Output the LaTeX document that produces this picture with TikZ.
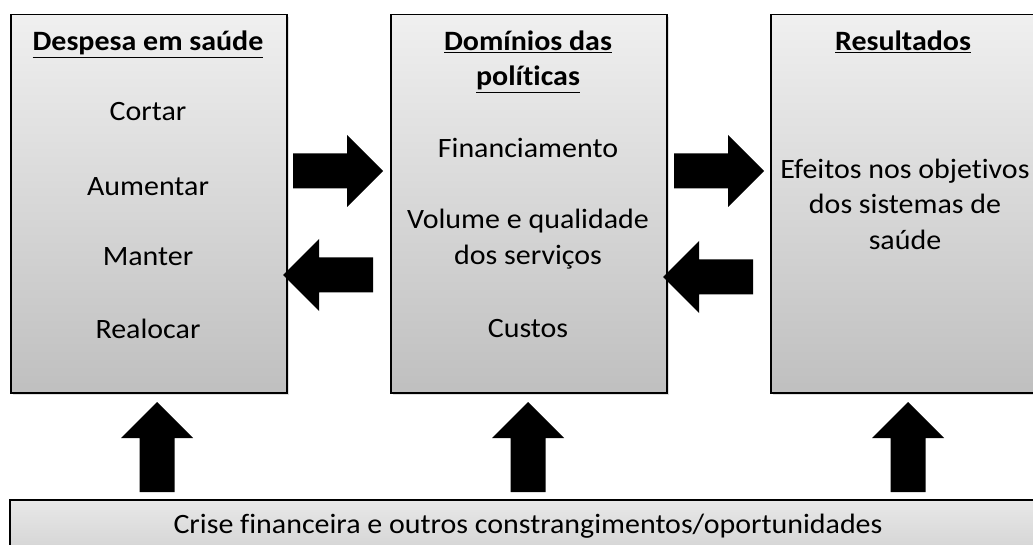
\documentclass[tikz,border=0pt]{standalone}
\usepackage{fontspec}
\setmainfont[Ligatures=NoCommon, FakeStretch=1.07]{Carlito}
\usetikzlibrary{shadows}
\tikzset{
  panel/.style={draw=black, line width=1.5pt, top color=gray!12, bottom color=gray!50,
    drop shadow={shadow xshift=2pt, shadow yshift=-2pt, opacity=0.25, fill=gray}},
  lbl/.style={font=\fontsize{28}{36}\selectfont, inner sep=0pt, align=center, anchor=base},
  hdr/.style={lbl, font=\fontsize{28}{36}\selectfont\bfseries},
  blockarrow/.style={fill=black, draw=none},
}
\newcommand\blkarrow[3]{% tail x, tail y, rotation
  \fill[blockarrow, shift={(#1,#2)}, rotate=#3]
    (0,17.5) -- (54,17.5) -- (54,36) -- (90,0) -- (54,-36) -- (54,-17.5) -- (0,-17.5) -- cycle;}
\begin{document}
\begin{tikzpicture}[x=1pt,y=1pt]
\useasboundingbox (0,0) rectangle (1033,-545);
\fill[white] (0,0) rectangle (1033,-545);
% panels
\node[panel, minimum width=276pt, minimum height=378pt, anchor=north west, inner sep=0pt] (p1) at (10,-14) {};
\node[panel, minimum width=276pt, minimum height=378pt, anchor=north west, inner sep=0pt] (p2) at (390,-14) {};
\node[panel, minimum width=276pt, minimum height=378pt, anchor=north west, inner sep=0pt] (p3) at (770,-14) {};
\node[panel, minimum width=1040pt, minimum height=80pt, anchor=north west, inner sep=0pt, top color=gray!18, bottom color=gray!42] (p4) at (9,-499) {};
% texts panel 1
\node[hdr] (t1) at (148,-51) {\underline{Despesa em saúde}};
\node[lbl] (a1) at (148,-121) {Cortar};
\node[lbl] (a2) at (148,-196) {Aumentar};
\node[lbl] (a3) at (148,-266) {Manter};
\node[lbl] (a4) at (148,-338) {Realocar};
% texts panel 2
\node[hdr] (t2a) at (528,-51) {\underline{Domínios das}};
\node[hdr] (t2b) at (528,-86) {\underline{políticas}};
\node[lbl] (b1) at (528,-158) {Financiamento};
\node[lbl] (b2) at (528,-229) {Volume e qualidade};
\node[lbl] (b3) at (528,-265) {dos serviços};
\node[lbl] (b4) at (528,-337) {Custos};
% texts panel 3
\node[hdr] (t3) at (903,-51) {\underline{Resultados}};
\node[lbl] (c1) at (905,-179) {Efeitos nos objetivos};
\node[lbl] (c2) at (905,-214) {dos sistemas de};
\node[lbl] (c3) at (905,-250) {saúde};
% bottom text
\node[lbl] (d1) at (528,-533) {Crise financeira e outros constrangimentos/oportunidades};
% arrows
\blkarrow{293}{-171}{0}
\blkarrow{373}{-275}{180}
\blkarrow{674}{-171}{0}
\blkarrow{753}{-277}{180}
\blkarrow{157}{-492}{90}
\blkarrow{528}{-492}{90}
\blkarrow{908}{-492}{90}
\end{tikzpicture}
\end{document}
